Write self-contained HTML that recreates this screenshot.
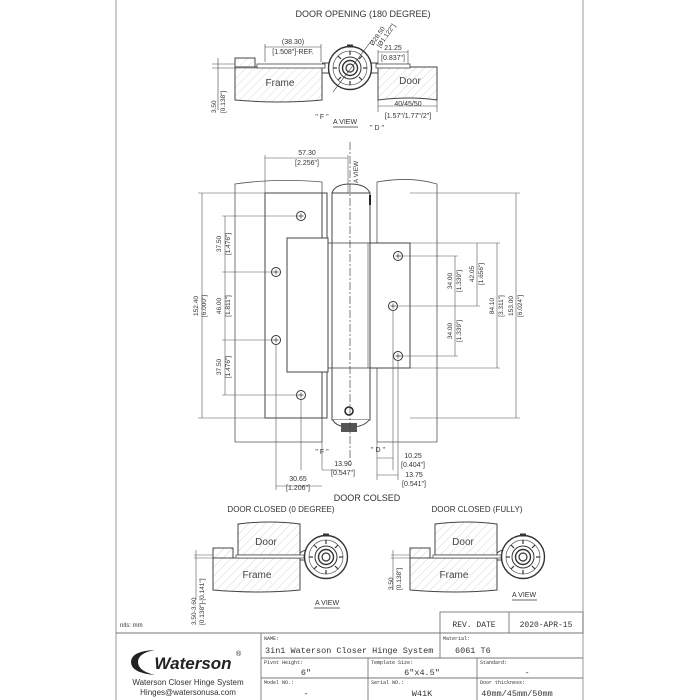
<!DOCTYPE html>
<html><head><meta charset="utf-8"><style>
html,body{margin:0;padding:0;background:#fff;}
svg{display:block;font-family:"Liberation Sans",sans-serif;}
.t{font-size:7px;fill:#333}
.m{font-family:"Liberation Mono",monospace;fill:#333}
</style></head><body>
<svg width="700" height="700" viewBox="0 0 700 700" xmlns="http://www.w3.org/2000/svg">
<defs>
<pattern id="h" width="6" height="6" patternUnits="userSpaceOnUse" patternTransform="rotate(45)">
<line x1="0" y1="0" x2="0" y2="6" stroke="#bbb" stroke-width="0.6"/></pattern>
<g id="hc">
<circle r="21.5" fill="#fff" stroke="#333" stroke-width="1.4"/>
<circle r="17" fill="none" stroke="#555" stroke-width="0.7"/>
<circle r="11" fill="none" stroke="#333" stroke-width="1"/>
<circle r="7.5" fill="none" stroke="#333" stroke-width="1.4"/>
<circle r="4" fill="none" stroke="#333" stroke-width="1.2"/>
<g stroke="#333" stroke-width="1.2">
<line x1="0" y1="-17" x2="0" y2="-13"/><line x1="0" y1="17" x2="0" y2="13"/>
<line x1="-17" y1="0" x2="-13" y2="0"/><line x1="17" y1="0" x2="13" y2="0"/>
<line x1="-12" y1="-12" x2="-9" y2="-9"/><line x1="12" y1="12" x2="9" y2="9"/>
<line x1="12" y1="-12" x2="9" y2="-9"/><line x1="-12" y1="12" x2="-9" y2="9"/>
</g>
<rect x="-3" y="-23.5" width="6" height="3" fill="#333"/>
</g>
<g id="hole"><circle r="4.5" fill="#fff" stroke="#333" stroke-width="1"/><path d="M-2.5 0H2.5M0 -2.5V2.5" stroke="#333" stroke-width="0.7"/></g>
</defs>

<line x1="116" y1="0" x2="116" y2="700" stroke="#aaa" stroke-width="1.2"/>
<line x1="583" y1="0" x2="583" y2="700" stroke="#aaa" stroke-width="1.2"/>

<!-- TOP VIEW -->
<text x="363" y="17" text-anchor="middle" style="font-size:9px;fill:#333">DOOR OPENING (180 DEGREE)</text>
<path d="M235 67H322V100Q280 104 235 100Z" fill="url(#h)" stroke="#444" stroke-width="1"/>
<rect x="235" y="58" width="20" height="9" fill="url(#h)" stroke="#444" stroke-width="1"/>
<rect x="257" y="64" width="68" height="4" fill="#fff" stroke="#444" stroke-width="0.8"/>
<path d="M378 67H437V100Q410 96 378 100Z" fill="url(#h)" stroke="#444" stroke-width="1"/>
<rect x="376" y="64" width="34" height="4" fill="#fff" stroke="#444" stroke-width="0.8"/>
<text x="280" y="86" text-anchor="middle" style="font-size:10px;fill:#444">Frame</text>
<text x="410" y="84" text-anchor="middle" style="font-size:10px;fill:#444">Door</text>
<path d="M322 63H335M322 73H335M365 63H378M365 73H378" stroke="#444"/>
<use href="#hc" x="350" y="68"/>
<line x1="333" y1="92" x2="372" y2="40" stroke="#333" stroke-width="0.6"/>
<text transform="translate(373,46) rotate(-55)" class="t" style="font-size:6.5px">Ø28.50</text>
<text transform="translate(380,48) rotate(-55)" class="t" style="font-size:6.5px">[Ø1.122"]</text>
<path d="M265 44V62M321 44V62M265 47H321" stroke="#444" stroke-width="0.6" fill="none"/>
<text x="293" y="44" class="t" text-anchor="middle">(38.30)</text>
<text x="293" y="54" class="t" text-anchor="middle">[1.508"]-REF.</text>
<path d="M378 52H408M378 50V64M408 50V64" stroke="#444" stroke-width="0.6" fill="none"/>
<text x="393" y="50" class="t" text-anchor="middle">21.25</text>
<text x="393" y="60" class="t" text-anchor="middle">[0.837"]</text>
<path d="M378 106H437M378 100V112M437 100V112" stroke="#444" stroke-width="0.6" fill="none"/>
<text x="408" y="106" class="t" text-anchor="middle">40/45/50</text>
<text x="408" y="118" class="t" text-anchor="middle">[1.57"/1.77"/2"]</text>
<path d="M218 58V110M212 64H235M212 68H257" stroke="#444" stroke-width="0.6"/>
<text transform="translate(216,113) rotate(-90)" class="t" style="font-size:6.5px">3.50</text>
<text transform="translate(225,113) rotate(-90)" class="t" style="font-size:6.5px">[0.138"]</text>
<text x="322" y="119" class="t" text-anchor="middle">" F "</text>
<text x="345" y="124" class="t" text-anchor="middle">A  VIEW</text>
<line x1="333" y1="127" x2="358" y2="127" stroke="#333" stroke-width="0.7"/>
<text x="377" y="130" class="t" text-anchor="middle">" D "</text>

<!-- MAIN VIEW -->
<path d="M235 184Q275 178 322 182V442H235Z" fill="#fff" stroke="#555" stroke-width="0.8"/>
<path d="M377 182Q410 176 437 184V442H377Z" fill="#fff" stroke="#555" stroke-width="0.8"/>
<rect x="265" y="193" width="62" height="225" fill="#fff" stroke="#444" stroke-width="1"/>
<line x1="322" y1="193" x2="322" y2="418" stroke="#444"/>
<path d="M332 193Q335 184 350 184Q366 184 370 193" fill="#fff" stroke="#444" stroke-width="1"/>
<rect x="332" y="193" width="38" height="227" fill="#fff" stroke="#444" stroke-width="1"/>
<path d="M333 420Q336 427 350 427Q364 427 369 420" fill="#fff" stroke="#444"/>
<rect x="341" y="423" width="16" height="9" fill="#555"/>
<line x1="370" y1="195" x2="370" y2="205" stroke="#222" stroke-width="2"/>
<rect x="287" y="238" width="41" height="134" fill="#fff" stroke="#444" stroke-width="1"/>
<rect x="328" y="243" width="44" height="125" fill="none" stroke="#444" stroke-width="0.8"/>
<rect x="370" y="243" width="40" height="125" fill="#fff" stroke="#444" stroke-width="1"/>
<line x1="368" y1="243" x2="368" y2="368" stroke="#444" stroke-width="0.6"/>
<circle cx="349" cy="411" r="4" fill="#fff" stroke="#222" stroke-width="1.5"/>
<line x1="350" y1="142" x2="350" y2="465" stroke="#444" stroke-width="0.7" stroke-dasharray="8,2,2,2"/>
<use href="#hole" x="301" y="216"/><use href="#hole" x="276" y="272"/><use href="#hole" x="276" y="340"/><use href="#hole" x="301" y="395"/>
<use href="#hole" x="398" y="256"/><use href="#hole" x="393" y="306"/><use href="#hole" x="398" y="356"/>
<g stroke="#555" stroke-width="0.6" fill="none">
<path d="M198 193H265M198 418H265M202 193V418"/>
<path d="M222 216H301M222 272H276M222 340H276M222 395H301M225 216V395"/>
<path d="M410 193H520M410 418H520M516 193V418"/>
<path d="M410 243H500M410 368H500M497 243V368"/>
<path d="M398 256H458M393 306H480M398 356H458M477 243V306M455 256V356"/>
<path d="M265 155V193M348 155V193M265 158H348"/>
<path d="M276 345V490M322 420V470M301 400V470M322 470H340M276 486H322"/>
<path d="M377 442V480M393 310V470M398 360V480M377 458H393M377 475H398"/>
</g>
<g class="t" style="font-size:6.5px">
<text transform="translate(198,306) rotate(-90)" text-anchor="middle">152.40</text>
<text transform="translate(206,306) rotate(-90)" text-anchor="middle">[6.000"]</text>
<text transform="translate(221,244) rotate(-90)" text-anchor="middle">37.50</text>
<text transform="translate(230,244) rotate(-90)" text-anchor="middle">[1.476"]</text>
<text transform="translate(221,306) rotate(-90)" text-anchor="middle">46.00</text>
<text transform="translate(230,306) rotate(-90)" text-anchor="middle">[1.811"]</text>
<text transform="translate(221,367) rotate(-90)" text-anchor="middle">37.50</text>
<text transform="translate(230,367) rotate(-90)" text-anchor="middle">[1.476"]</text>
<text transform="translate(452,281) rotate(-90)" text-anchor="middle">34.00</text>
<text transform="translate(461,281) rotate(-90)" text-anchor="middle">[1.339"]</text>
<text transform="translate(452,331) rotate(-90)" text-anchor="middle">34.00</text>
<text transform="translate(461,331) rotate(-90)" text-anchor="middle">[1.339"]</text>
<text transform="translate(474,274) rotate(-90)" text-anchor="middle">42.05</text>
<text transform="translate(483,274) rotate(-90)" text-anchor="middle">[1.656"]</text>
<text transform="translate(494,306) rotate(-90)" text-anchor="middle">84.10</text>
<text transform="translate(503,306) rotate(-90)" text-anchor="middle">[3.311"]</text>
<text transform="translate(513,306) rotate(-90)" text-anchor="middle">153.00</text>
<text transform="translate(522,306) rotate(-90)" text-anchor="middle">[6.024"]</text>
<text transform="translate(358,172) rotate(-90)" text-anchor="middle">A VIEW</text>
</g>
<text x="307" y="155" class="t" text-anchor="middle">57.30</text>
<text x="307" y="165" class="t" text-anchor="middle">[2.256"]</text>
<text x="322" y="454" class="t" text-anchor="middle">" F "</text>
<text x="343" y="466" class="t" text-anchor="middle">13.90</text>
<text x="343" y="475" class="t" text-anchor="middle">[0.547"]</text>
<text x="298" y="481" class="t" text-anchor="middle">30.65</text>
<text x="298" y="490" class="t" text-anchor="middle">[1.206"]</text>
<text x="378" y="452" class="t" text-anchor="middle">" D "</text>
<text x="413" y="458" class="t" text-anchor="middle">10.25</text>
<text x="413" y="467" class="t" text-anchor="middle">[0.404"]</text>
<text x="414" y="477" class="t" text-anchor="middle">13.75</text>
<text x="414" y="486" class="t" text-anchor="middle">[0.541"]</text>

<!-- DOOR CLOSED -->
<text x="367" y="501" text-anchor="middle" style="font-size:9px;fill:#333">DOOR COLSED</text>
<text x="281" y="512" text-anchor="middle" style="font-size:8px;fill:#333">DOOR CLOSED (0 DEGREE)</text>
<text x="477" y="512" text-anchor="middle" style="font-size:8px;fill:#333">DOOR CLOSED (FULLY)</text>
<g id="cl">
<path d="M238 524Q270 520 300 524V555H238Z" fill="url(#h)" stroke="#444"/>
<path d="M213 558H300V590Q260 594 213 590Z" fill="url(#h)" stroke="#444"/>
<rect x="213" y="548" width="20" height="10" fill="url(#h)" stroke="#444"/>
<rect x="236" y="555" width="68" height="3" fill="#fff" stroke="#444" stroke-width="0.7"/>
<path d="M300 553Q306 548 310 552M300 560H310" stroke="#444" fill="none"/>
<text x="266" y="545" text-anchor="middle" style="font-size:10px;fill:#444">Door</text>
<text x="257" y="578" text-anchor="middle" style="font-size:10px;fill:#444">Frame</text>
</g>
<use href="#hc" x="326" y="557"/>
<use href="#cl" x="197" y="0"/>
<use href="#hc" x="523" y="557"/>
<text x="327" y="605" class="t" text-anchor="middle">A  VIEW</text>
<line x1="314" y1="608" x2="340" y2="608" stroke="#333" stroke-width="0.7"/>
<text x="524" y="597" class="t" text-anchor="middle">A  VIEW</text>
<line x1="512" y1="600" x2="537" y2="600" stroke="#333" stroke-width="0.7"/>
<path d="M196 550V600M194 555H213M194 558H236" stroke="#555" stroke-width="0.6"/>
<text transform="translate(196,625) rotate(-90)" class="t" style="font-size:6.5px">3.50-3.60</text>
<text transform="translate(204,625) rotate(-90)" class="t" style="font-size:6.5px">[0.138"]-[0.141"]</text>
<path d="M393 550V590M391 555H410M391 558H433" stroke="#555" stroke-width="0.6"/>
<text transform="translate(393,590) rotate(-90)" class="t" style="font-size:6.5px">3.50</text>
<text transform="translate(401,590) rotate(-90)" class="t" style="font-size:6.5px">[0.138"]</text>
<text x="120" y="627" class="t" style="font-size:6px">nits: mm</text>

<!-- TITLE BLOCK -->
<g stroke="#777" stroke-width="0.9" fill="none">
<rect x="440" y="612" width="143" height="21"/>
<line x1="509" y1="612" x2="509" y2="633"/>
<line x1="116" y1="633" x2="583" y2="633"/>
<line x1="261" y1="633" x2="261" y2="700"/>
<line x1="261" y1="658" x2="583" y2="658"/>
<line x1="261" y1="678" x2="583" y2="678"/>
<line x1="368" y1="658" x2="368" y2="700"/>
<line x1="477" y1="658" x2="477" y2="700"/>
<line x1="440" y1="633" x2="440" y2="658"/>
</g>
<text x="474" y="627" text-anchor="middle" class="m" style="font-size:8px">REV. DATE</text>
<text x="546" y="627" text-anchor="middle" class="m" style="font-size:8px">2020-APR-15</text>
<g class="m" style="font-size:5px"><text x="264" y="640">NAME:</text><text x="443" y="640">Material:</text>
<text x="264" y="664">Pivot Height:</text><text x="371" y="664">Template Size:</text><text x="480" y="664">Standard:</text>
<text x="264" y="684">Model NO.:</text><text x="371" y="684">Serial NO.:</text><text x="480" y="684">Door thickness:</text></g>
<g class="m" style="font-size:8.5px">
<text x="265" y="653">3in1 Waterson Closer Hinge System</text>
<text x="455" y="653">6061 T6</text>
<text x="306" y="675" text-anchor="middle">6"</text>
<text x="422" y="675" text-anchor="middle">6"x4.5"</text>
<text x="527" y="675" text-anchor="middle">-</text>
<text x="306" y="696" text-anchor="middle">-</text>
<text x="422" y="696" text-anchor="middle">W41K</text>
<text x="517" y="696" text-anchor="middle">40mm/45mm/50mm</text></g>
<path d="M155 650Q131 651 131 662Q131 673 155 675Q138 671 138 662Q138 653 155 650Z" fill="#222"/>
<text x="193" y="669" text-anchor="middle" style="font-size:17px;font-weight:bold;fill:#222;font-style:italic">Waterson</text>
<text x="236" y="656" style="font-size:7px;fill:#222">®</text>
<text x="188" y="685" text-anchor="middle" style="font-size:8px;fill:#333">Waterson Closer Hinge System</text>
<text x="188" y="695" text-anchor="middle" style="font-size:8px;fill:#333">Hinges@watersonusa.com</text>
</svg>
</body></html>
